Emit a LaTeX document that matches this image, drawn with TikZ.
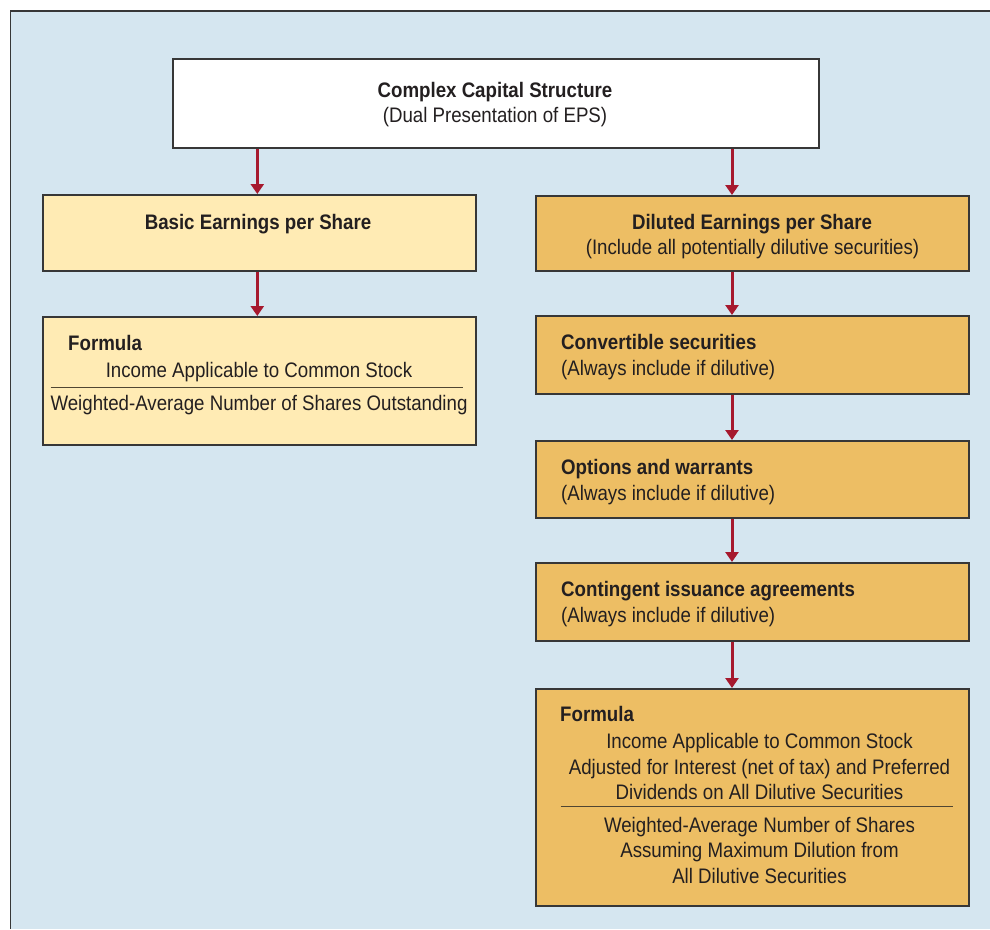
\documentclass[tikz,border=0pt]{standalone}
\usepackage{fontspec}
\setmainfont[FakeStretch=0.89]{Liberation Sans}
\usetikzlibrary{arrows.meta}
\definecolor{bgblue}{RGB}{213,230,240}
\definecolor{lightbox}{RGB}{255,235,180}
\definecolor{darkbox}{RGB}{237,190,100}
\definecolor{arrowred}{RGB}{166,25,46}
\definecolor{txtcol}{RGB}{35,31,32}
\definecolor{edgecol}{RGB}{55,55,55}
\definecolor{rulecol}{RGB}{80,70,50}
\begin{document}
\begin{tikzpicture}[x=1pt,y=-1pt,
  box/.style={draw=edgecol,line width=1.5pt,rectangle,inner sep=0pt,anchor=north west},
  whitebox/.style={box,fill=white},
  lbox/.style={box,fill=lightbox},
  dbox/.style={box,fill=darkbox},
  lbl/.style={inner sep=0pt,text=txtcol,font=\fontsize{21}{25}\selectfont},
  blbl/.style={lbl,font=\fontsize{21}{25}\selectfont\bfseries},
  arr/.style={draw=arrowred,line width=3pt,-{Triangle[length=10pt,width=13pt]}},
  fline/.style={draw=rulecol,line width=1.1pt}]
\useasboundingbox (0,0) rectangle (990,929);
\fill[bgblue] (10,11) rectangle (990,929);
\draw[edgecol,line width=1.7pt] (10.5,929) -- (10.5,11) -- (990,11);

% boxes
\node[whitebox,minimum width=646pt,minimum height=89pt] (top) at (172,58) {};
\node[lbox,minimum width=433pt,minimum height=76pt] (basic) at (42,194) {};
\node[lbox,minimum width=433pt,minimum height=128pt] (bform) at (42,316) {};
\node[dbox,minimum width=433pt,minimum height=75pt] (dil) at (535,195) {};
\node[dbox,minimum width=433pt,minimum height=78pt] (conv) at (535,315) {};
\node[dbox,minimum width=433pt,minimum height=77pt] (opt) at (535,440) {};
\node[dbox,minimum width=433pt,minimum height=78pt] (cont) at (535,562) {};
\node[dbox,minimum width=433pt,minimum height=217pt] (dform) at (535,688) {};

% texts
\node[blbl,anchor=base] (t1) at (495,97) {Complex Capital Structure};
\node[lbl,anchor=base] (t2) at (495,122) {(Dual Presentation of EPS)};
\node[blbl,anchor=base] (b1) at (258,229) {Basic Earnings per Share};
\node[blbl,anchor=base west] (bf1) at (68,350) {Formula};
\node[lbl,anchor=base] (bf2) at (259,377) {Income Applicable to Common Stock};
\node[lbl,anchor=base] (bf3) at (259,410) {Weighted-Average Number of Shares Outstanding};
\draw[fline] (50.7,387.3) -- (462.7,387.3);

\node[blbl,anchor=base] (d1) at (752,229) {Diluted Earnings per Share};
\node[lbl,anchor=base] (d2) at (752.5,254) {(Include all potentially dilutive securities)};
\node[blbl,anchor=base west] (c1) at (561,349) {Convertible securities};
\node[lbl,anchor=base west] (c2) at (561,375) {(Always include if dilutive)};
\node[blbl,anchor=base west] (o1) at (561,474) {Options and warrants};
\node[lbl,anchor=base west] (o2) at (561,500) {(Always include if dilutive)};
\node[blbl,anchor=base west] (g1) at (561,596) {Contingent issuance agreements};
\node[lbl,anchor=base west] (g2) at (561,622) {(Always include if dilutive)};
\node[blbl,anchor=base west] (f1) at (560,721) {Formula};
\node[lbl,anchor=base] (f2) at (759.5,748) {Income Applicable to Common Stock};
\node[lbl,anchor=base] (f3) at (759.5,774) {Adjusted for Interest (net of tax) and Preferred};
\node[lbl,anchor=base] (f4) at (759.5,799) {Dividends on All Dilutive Securities};
\draw[fline] (560.7,806.7) -- (952.7,806.7);
\node[lbl,anchor=base] (f5) at (759.5,832) {Weighted-Average Number of Shares};
\node[lbl,anchor=base] (f6) at (759.5,857) {Assuming Maximum Dilution from};
\node[lbl,anchor=base] (f7) at (759.5,883) {All Dilutive Securities};

% connectors
\coordinate (lx) at (257.3,0);
\coordinate (rx) at (732,0);
\draw[arr] (top.south -| lx) -- (basic.north -| lx);
\draw[arr] (basic.south -| lx) -- (bform.north -| lx);
\draw[arr] (top.south -| rx) -- (dil.north -| rx);
\draw[arr] (dil.south -| rx) -- (conv.north -| rx);
\draw[arr] (conv.south -| rx) -- (opt.north -| rx);
\draw[arr] (opt.south -| rx) -- (cont.north -| rx);
\draw[arr] (cont.south -| rx) -- (dform.north -| rx);
\end{tikzpicture}
\end{document}
